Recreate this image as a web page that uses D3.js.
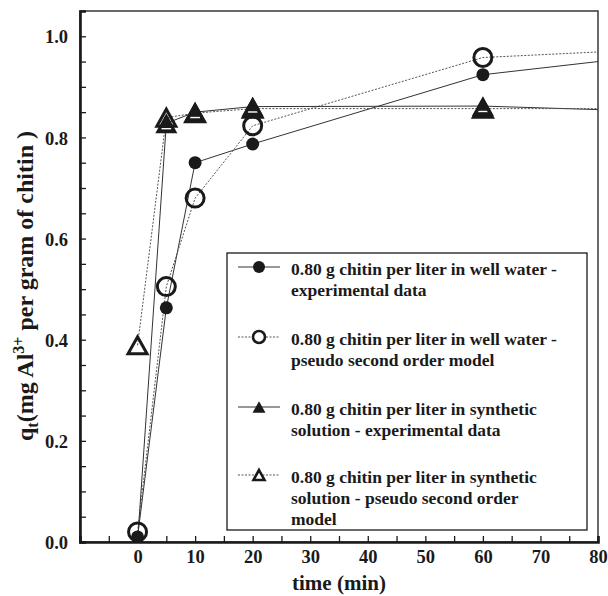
<!DOCTYPE html>
<html>
<head>
<meta charset="utf-8">
<script src="https://cdn.jsdelivr.net/npm/d3@7"></script>
<style>
body { margin: 0; background: #fff; }
text { font-family: "Liberation Serif", "DejaVu Serif", serif; font-weight: bold; fill: #1a1a1a; }
</style>
</head>
<body>
<div id="chart"></div>
<script>
// sampling times (min)
var times = [0, 5, 10, 20, 60];
// q_t values, mg Al3+ per gram of chitin
var wellExp = [0.010, 0.463, 0.750, 0.787, 0.924];
var wellModel = [0.020, 0.505, 0.680, 0.823, 0.958];
var synthExp = [0.000, 0.828, 0.850, 0.861, 0.862];
var synthModel = [0.389, 0.839, 0.848, 0.857, 0.857];
// where each line leaves the frame at t = 80
var tailTime = 80;
var tails = [0.950, 0.969, 0.855, 0.857];

var seriesNames = [
	["0.80 g chitin per liter in well water -", "experimental data"],
	["0.80 g chitin per liter in well water -", "pseudo second order model"],
	["0.80 g chitin per liter in synthetic", "solution - experimental data"],
	["0.80 g chitin per liter in synthetic", "solution - pseudo second order", "model"]
];
var xTicks = [0, 10, 20, 30, 40, 50, 60, 70, 80];
var yTicks = [0.0, 0.2, 0.4, 0.6, 0.8, 1.0];

var width = 608, height = 596;
var margin = {top: 11, right: 10, bottom: 54, left: 80};

var svg = d3.select("#chart").append("svg")
	.attr("width", width)
	.attr("height", height);

var x = d3.scaleLinear().domain([-10, 80]).range([margin.left, width - margin.right]);
var y = d3.scaleLinear().domain([0, 1.05]).range([height - margin.bottom, margin.top]);

var ink = "#1a1a1a";

svg.append("clipPath").attr("id", "plotclip")
	.append("rect")
	.attr("x", x(-10)).attr("y", y(1.05))
	.attr("width", x(80) - x(-10)).attr("height", y(0) - y(1.05));

// frame (top/right thin)
svg.append("rect")
	.attr("x", x(-10)).attr("y", y(1.05))
	.attr("width", x(80) - x(-10)).attr("height", y(0) - y(1.05))
	.attr("fill", "none").attr("stroke", ink).attr("stroke-width", 1.3);

// series
var series = [
	{vals: wellExp, shape: "circle", filled: true, dash: null},
	{vals: wellModel, shape: "circle", filled: false, dash: "2,1.5"},
	{vals: synthExp, shape: "triangle", filled: true, dash: null},
	{vals: synthModel, shape: "triangle", filled: false, dash: "2,1.5"}
];

var plot = svg.append("g").attr("clip-path", "url(#plotclip)");

var line = d3.line().x(function(d) { return x(d[0]); }).y(function(d) { return y(d[1]); });

series.forEach(function(s, i) {
	var pts = times.map(function(t, j) { return [t, s.vals[j]]; });
	pts.push([tailTime, tails[i]]);
	plot.append("path")
		.datum(pts)
		.attr("d", line)
		.attr("fill", "none")
		.attr("stroke", s.dash ? "#555" : "#333")
		.attr("stroke-width", 1)
		.attr("stroke-dasharray", s.dash);
});

function marker(g, shape, filled, big, transparent) {
	if (shape === "circle") {
		var r = filled ? (big ? 6.5 : 6) : (big ? 9 : 6);
		g.append("circle").attr("r", r)
			.attr("fill", filled ? ink : (transparent ? "none" : "#fff"))
			.attr("stroke", ink)
			.attr("stroke-width", filled ? 0 : (big ? 3 : 2.6));
	} else {
		var w = filled ? (big ? 22 : 13) : (big ? 19 : 11);
		var h = w * 0.9;
		g.append("path")
			.attr("d", "M0," + (-h / 2) + "L" + (w / 2) + "," + (h / 2) + "L" + (-w / 2) + "," + (h / 2) + "Z")
			.attr("fill", filled ? ink : (transparent ? "none" : "#fff"))
			.attr("stroke", ink)
			.attr("stroke-width", filled ? 0 : (big ? 3 : 2.6))
			.attr("stroke-linejoin", "miter");
		if (filled && big) {
			// the plotted solid triangles show a thin light bar near the base
			g.append("line")
				.attr("x1", -w * 0.22).attr("x2", w * 0.22)
				.attr("y1", h / 2 - 4.5).attr("y2", h / 2 - 4.5)
				.attr("stroke", "#fff").attr("stroke-width", 1.4);
		}
	}
}

series.forEach(function(s) {
	times.forEach(function(t, j) {
		var g = plot.append("g").attr("transform", "translate(" + x(t) + "," + y(s.vals[j]) + ")");
		marker(g, s.shape, s.filled, true, true);
	});
});

// axes
var xAxis = d3.axisBottom(x)
	.tickValues(d3.range(-10, 81, 5))
	.tickSize(-6)
	.tickFormat(function(d) { return xTicks.indexOf(d) >= 0 ? d : ""; });
var gx = svg.append("g")
	.attr("transform", "translate(0," + y(0) + ")")
	.call(xAxis);

var yAxis = d3.axisLeft(y)
	.tickValues(d3.range(0, 21).map(function(i) { return i * 0.05; }))
	.tickSize(-6)
	.tickFormat(function(d) {
		var hit = yTicks.some(function(t) { return Math.abs(t - d) < 1e-6; });
		return hit ? d3.format(".1f")(d) : "";
	});
var gy = svg.append("g")
	.attr("transform", "translate(" + x(-10) + ",0)")
	.call(yAxis);

[gx, gy].forEach(function(g) {
	g.select(".domain").attr("stroke", ink).attr("stroke-width", 2.6);
	g.selectAll(".tick line").attr("stroke", ink).attr("stroke-width", 1.3);
	g.selectAll(".tick text").style("font-size", "18.5px").attr("fill", ink);
});
gx.selectAll(".tick text").attr("dy", null).attr("y", 21);
gy.selectAll(".tick text").attr("x", -12).attr("dy", "0.36em");

// axis titles
svg.append("text")
	.attr("x", x(35))
	.attr("y", 590)
	.attr("text-anchor", "middle")
	.style("font-size", "21px")
	.text("time (min)");

var yt = svg.append("text")
	.attr("transform", "translate(33," + 286 + ") rotate(-90)")
	.attr("text-anchor", "middle")
	.style("font-size", "24px");
yt.append("tspan").text("q");
yt.append("tspan").attr("dy", 5).style("font-size", "16px").text("t");
yt.append("tspan").attr("dy", -5).text("(mg Al");
yt.append("tspan").attr("dy", -9).style("font-size", "16px").text("3+");
yt.append("tspan").attr("dy", 9).text(" per gram of chitin )");

// legend
var lg = svg.append("g");
lg.append("rect")
	.attr("x", 227).attr("y", 253)
	.attr("width", 360).attr("height", 277)
	.attr("fill", "#fff").attr("stroke", ink).attr("stroke-width", 1.3);

var legendY = [267, 337, 407, 475];
series.forEach(function(s, i) {
	var cy = legendY[i];
	lg.append("line")
		.attr("x1", 238).attr("x2", 280).attr("y1", cy).attr("y2", cy)
		.attr("stroke", s.dash ? "#555" : "#333")
		.attr("stroke-width", 1)
		.attr("stroke-dasharray", s.dash);
	var g = lg.append("g").attr("transform", "translate(259," + cy + ")");
	marker(g, s.shape, s.filled, false, false);
	seriesNames[i].forEach(function(txt, k) {
		lg.append("text")
			.attr("x", 291)
			.attr("y", cy + 8 + k * 21)
			.style("font-size", "17.5px")
			.text(txt);
	});
});
</script>
</body>
</html>
